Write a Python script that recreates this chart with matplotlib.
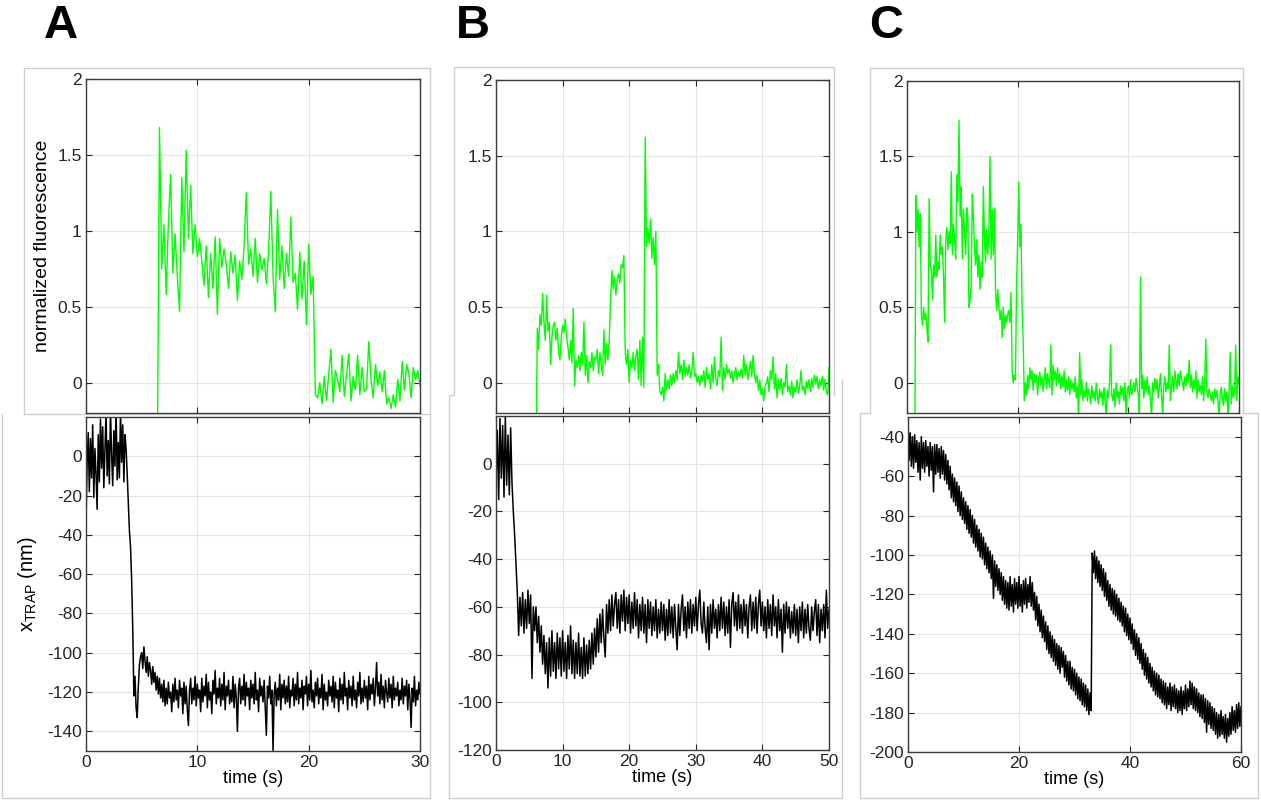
import numpy as np
import matplotlib.pyplot as plt
from matplotlib.lines import Line2D
from matplotlib.ticker import FormatStrFormatter

plt.rcParams['font.family'] = ['Liberation Sans', 'DejaVu Sans']
plt.rcParams['mathtext.fontset'] = 'custom'
plt.rcParams['mathtext.rm'] = 'Liberation Sans'
plt.rcParams['axes.unicode_minus'] = False

# ------------------------------------------------------------
# DATA
# ------------------------------------------------------------
# panel A, fluorescence, starts at t=6.4 s, one value every 0.2 s
a_fluo_t0, a_fluo_dt = 6.4, 0.2
a_fluo = [
    -0.6, 1.68, 0.75, 1.04, 0.58, 1.05, 1.37, 0.72, 0.98, 0.70,
    0.47, 1.35, 0.86, 1.53, 0.95, 1.30, 0.85, 1.04, 0.83, 0.95,
    0.80, 0.64, 0.90, 0.56, 0.85, 0.62, 0.96, 0.45, 0.95, 0.76,
    0.88, 0.78, 0.62, 0.86, 0.72, 0.84, 0.54, 0.80, 0.68, 0.90,
    1.25, 0.78, 0.88, 0.70, 0.95, 0.66, 0.85, 0.74, 0.82, 0.65,
    0.86, 1.26, 0.70, 0.47, 1.14, 0.68, 0.90, 0.62, 0.85, 0.70,
    1.09, 0.66, 0.72, 0.48, 0.86, 0.55, 0.80, 0.38, 0.91, 0.58,
    0.70, -0.08, -0.10, 0.00, -0.14, 0.04, -0.12, 0.05, 0.22, -0.13,
    0.08, 0.02, -0.06, 0.18, -0.09, 0.05, 0.19, -0.12, 0.04, -0.05,
    0.18, -0.08, 0.10, -0.06, -0.04, 0.27, 0.02, -0.10, 0.12, -0.02,
    0.07, -0.06, 0.08, -0.14, -0.10, -0.17, -0.08, -0.16, 0.02, -0.12,
    0.14, -0.05, 0.12, 0.06, -0.10, 0.10, 0.02, 0.08, -0.02,
]

# panel A, trap position, starts at t=0, one value every 0.1 s
a_trap_t0, a_trap_dt = 0.0, 0.1
a_trap = [
    -33, -4, 12, -18, 9, -11, 16, -21, 4, -9,
    -27, 11, -13, 19, -6, 15, -16, 3, 22, -10,
    8, -14, 24, 1, -15, 13, -5, 26, -12, 7,
    -11, 23, -3, 16, -13, 11, 4, -9, -24, -38,
    -46, -63, -88, -122, -112, -128, -133, -117, -106, -102,
    -100, -108, -97, -104, -110, -102, -112, -105, -109, -116,
    -107, -115, -110, -119, -112, -121, -113, -123, -116, -125,
    -114, -127, -118, -126, -115, -123, -120, -130, -116, -125,
    -113, -124, -119, -128, -114, -122, -118, -131, -115, -126,
    -117, -129, -137, -119, -113, -126, -118, -124, -112, -127,
    -116, -123, -119, -130, -113, -125, -117, -122, -111, -128,
    -115, -124, -120, -131, -114, -121, -109, -126, -118, -123,
    -113, -127, -116, -124, -110, -129, -117, -122, -114, -126,
    -119, -125, -112, -128, -116, -123, -140, -118, -113, -126,
    -117, -124, -111, -127, -115, -122, -118, -129, -114, -123,
    -116, -126, -110, -124, -119, -130, -113, -122, -117, -125,
    -114, -128, -142, -117, -123, -112, -126, -119, -150, -121,
    -115, -127, -118, -124, -111, -129, -116, -123, -114, -126,
    -117, -125, -112, -128, -119, -122, -113, -127, -116, -124,
    -110, -126, -118, -123, -114, -129, -117, -121, -112, -127,
    -116, -124, -109, -125, -119, -128, -115, -122, -113, -126,
    -118, -123, -111, -129, -116, -124, -120, -127, -114, -122,
    -117, -125, -112, -128, -115, -123, -119, -130, -113, -124,
    -116, -126, -110, -122, -118, -129, -114, -123, -117, -127,
    -112, -124, -119, -128, -115, -122, -110, -126, -118, -125,
    -114, -123, -117, -129, -112, -124, -116, -121, -113, -127,
    -118, -105, -122, -115, -126, -111, -124, -117, -128, -114,
    -120, -125, -113, -123, -116, -128, -112, -124, -118, -122,
    -115, -127, -119, -124, -113, -126, -117, -122, -114, -129,
    -116, -123, -138, -118, -125, -112, -127, -119, -124, -115,
    -121,
]

# panel B, fluorescence, starts at t=6.0 s, every 0.2 s
b_fluo_t0, b_fluo_dt = 6.0, 0.2
b_fluo = [
    -0.6, 0.36, 0.22, 0.45, 0.38,
    0.59, 0.40, 0.28, 0.58, 0.34,
    0.40, 0.12, 0.30, 0.38, 0.40,
    0.28, 0.36, 0.20, 0.15, 0.30,
    0.38, 0.33, 0.42, 0.30, 0.24,
    0.15, 0.28, 0.13, 0.49, -0.02,
    0.15, 0.10, 0.18, 0.08, 0.20,
    0.12, 0.40, 0.05, 0.18, 0.00,
    0.14, 0.10, 0.20, 0.08, 0.17,
    0.15, 0.22, 0.06, 0.20, 0.12,
    0.05, 0.35, 0.12, 0.26, 0.15,
    0.28, 0.55, 0.74, 0.62, 0.70,
    0.58, 0.68, 0.72, 0.66, 0.78,
    0.76, 0.84, 0.20, 0.12, 0.22,
    0.00, 0.15, 0.10, 0.20, 0.08,
    0.18, 0.22, 0.02, 0.28, -0.02,
    0.30, -0.03, 1.62, 0.90, 1.02,
    0.92, 1.08, 0.82, 0.96, 0.78,
    1.00, 0.05, 0.12, -0.06, -0.08,
    -0.03, -0.12, 0.06, -0.05, 0.02,
    -0.04, 0.05, -0.02, 0.06, 0.00,
    0.08, 0.02, 0.20, 0.06, 0.12,
    0.02, 0.15, 0.04, 0.10, 0.05,
    0.12, 0.03, 0.08, 0.20, 0.04,
    0.06, 0.00, 0.04, -0.02, 0.05,
    0.01, 0.08, -0.03, 0.10, 0.02,
    0.06, -0.04, 0.12, 0.00, 0.17,
    0.03, -0.02, 0.08, 0.04, 0.30,
    -0.05, 0.10, 0.02, 0.12, 0.06,
    0.09, 0.03, 0.08, 0.00, 0.06,
    0.10, 0.02, 0.07, 0.04, 0.09,
    0.03, 0.18, 0.05, 0.12, 0.02,
    0.08, 0.14, 0.04, 0.18, 0.06,
    0.00, 0.05, -0.05, 0.02, -0.08,
    -0.04, -0.12, -0.02, 0.00, 0.04,
    -0.06, 0.08, 0.02, 0.17, -0.04,
    0.06, -0.10, 0.02, -0.05, 0.03,
    -0.08, 0.00, -0.03, 0.12, -0.06,
    -0.02, -0.08, 0.01, -0.10, -0.03,
    -0.06, 0.02, -0.07, -0.02, 0.08,
    -0.05, -0.02, -0.08, 0.01, -0.04,
    0.02, -0.06, 0.03, -0.03, 0.05,
    -0.01, 0.04, -0.04, 0.02, -0.02,
    0.04, -0.05, 0.02, -0.06, -0.08,
    0.10,
]

# panel B, trap position, every 0.2 s
b_trap_t0, b_trap_dt = 0.0, 0.2
b_trap = [
    -8, 14, -15, 19, -6,
    16, -14, 20, -9, 12,
    -13, 15, -8, -20, -30,
    -42, -54, -72, -56, -68,
    -54, -71, -57, -69, -53,
    -67, -55, -90, -60, -70,
    -60, -75, -64, -79, -68,
    -84, -72, -88, -75, -94,
    -73, -89, -70, -87, -75,
    -90, -71, -86, -73, -89,
    -70, -87, -75, -90, -72,
    -86, -68, -88, -74, -90,
    -75, -88, -71, -89, -77,
    -90, -73, -89, -76, -88,
    -74, -86, -71, -84, -69,
    -81, -65, -79, -63, -75,
    -61, -73, -81, -59, -71,
    -57, -70, -55, -68, -59,
    -54, -69, -57, -71, -55,
    -66, -53, -70, -56, -67,
    -55, -71, -58, -69, -54,
    -68, -57, -73, -59, -70,
    -56, -71, -59, -75, -57,
    -69, -58, -72, -60, -70,
    -57, -73, -61, -71, -58,
    -70, -59, -74, -61, -72,
    -57, -71, -60, -73, -59,
    -69, -78, -59, -72, -61,
    -55, -70, -60, -73, -58,
    -69, -57, -71, -59, -68,
    -56, -70, -59, -53, -67,
    -71, -58, -69, -75, -60,
    -78, -59, -71, -57, -69,
    -61, -73, -59, -70, -56,
    -69, -58, -72, -60, -71,
    -57, -77, -59, -54, -68,
    -58, -70, -55, -69, -59,
    -71, -57, -68, -59, -73,
    -60, -55, -70, -58, -69,
    -56, -71, -59, -53, -68,
    -58, -70, -60, -73, -57,
    -69, -59, -72, -55, -68,
    -60, -73, -57, -70, -61,
    -79, -59, -71, -58, -69,
    -60, -73, -62, -71, -59,
    -72, -61, -75, -60, -70,
    -58, -73, -61, -71, -59,
    -69, -74, -60, -70, -62,
    -57, -72, -59, -75, -61,
    -70, -59, -73, -53, -69,
    -61,
]

# panel C, fluorescence, starts at t=1.4 s, every 0.2 s
c_fluo_t0, c_fluo_dt = 1.4, 0.2
c_fluo = [
    -0.6, 1.24, 1.00,
    1.15, 0.90, 1.12, 0.45, 0.38,
    0.50, 0.42, 0.46, 0.35, 0.27,
    1.22, 0.78, 0.75, 0.55, 0.78,
    0.70, 0.98, 0.70, 0.80, 0.75,
    0.98, 0.85, 0.90, 0.70, 0.40,
    0.95, 1.03, 0.88, 1.00, 0.92,
    1.40, 0.85, 1.05, 0.95, 0.82,
    1.38, 1.20, 1.74, 1.10, 1.30,
    0.82, 1.15, 1.00, 0.85, 1.16,
    1.10, 0.50, 0.55, 0.65, 1.25,
    1.10, 0.90, 0.78, 0.95, 0.70,
    0.85, 0.62, 0.80, 0.70, 1.30,
    0.95, 0.80, 1.02, 0.85, 1.00,
    1.50, 0.82, 1.15, 0.85, 1.16,
    0.60, 0.48, 0.62, 0.50, 0.42,
    0.48, 0.30, 0.50, 0.36, 0.45,
    0.40, 0.45, 0.48, 0.40, 0.60,
    0.08, 0.00, 0.05, 0.02, 0.65,
    0.95, 1.33, 0.90, 1.05, 0.50,
    0.27, -0.12, 0.00, -0.08, 0.05,
    -0.04, 0.10, 0.02, 0.08, -0.05,
    0.06, 0.00, 0.05, -0.08, 0.03,
    0.07, -0.02, 0.04, -0.06, 0.02,
    0.10, -0.04, 0.06, 0.01, -0.03,
    0.25, -0.08, 0.12, 0.02, 0.08,
    -0.02, 0.10, 0.00, 0.06, -0.04,
    0.05, -0.03, 0.08, -0.06, 0.02,
    -0.05, 0.04, -0.08, 0.02, -0.04,
    0.00, -0.06, 0.04, -0.10, -0.02,
    -0.22, 0.20, -0.08, 0.02, -0.12,
    -0.05, -0.10, 0.00, -0.12, -0.04,
    -0.08, -0.14, -0.02, -0.10, -0.06,
    -0.12, 0.00, -0.08, -0.14, -0.04,
    -0.10, -0.06, -0.15, -0.03, -0.12,
    -0.22, -0.05, -0.10, 0.00, 0.25,
    -0.08, -0.12, -0.04, -0.16, 0.00,
    -0.10, -0.06, -0.14, -0.02, -0.08,
    -0.03, -0.12, 0.00, -0.22, -0.06,
    -0.02, -0.10, 0.02, -0.08, -0.04,
    0.00, -0.06, 0.03, -0.02, -0.08,
    -0.22, 0.70, -0.04, 0.05, -0.10,
    0.02, -0.06, 0.04, -0.08, -0.02,
    -0.12, -0.22, 0.00, -0.06, 0.03,
    -0.05, 0.02, -0.10, -0.03, 0.06,
    -0.08, -0.22, -0.02, 0.04, -0.06,
    0.00, -0.04, 0.25, -0.12, -0.03,
    0.04, -0.06, 0.08, 0.02, -0.04,
    0.06, -0.02, 0.08, 0.03, 0.00,
    -0.05, 0.04, -0.02, 0.06, 0.00,
    0.15, -0.03, 0.05, -0.06, 0.02,
    -0.04, 0.08, -0.10, 0.02, -0.06,
    -0.02, -0.08, 0.04, -0.12, 0.00,
    0.29, -0.06, -0.10, -0.04, -0.08,
    -0.12, -0.06, -0.14, -0.04, -0.10,
    -0.05, -0.12, -0.22, -0.08, -0.03,
    -0.10, -0.15, -0.04, -0.12, -0.06,
    -0.22, -0.08, 0.20, -0.14, -0.02,
    -0.10, -0.06, 0.25, -0.12, 0.04,
    0.00,
]

# panel C, trap position, every 0.2 s
c_trap_t0, c_trap_dt = 0.0, 0.2
c_trap = [
    -30, -52, -38, -55, -40,
    -56, -39, -53, -42, -58,
    -43, -62, -40, -56, -43,
    -58, -42, -55, -45, -60,
    -43, -57, -45, -68, -44,
    -59, -44, -58, -46, -61,
    -45, -59, -47, -62, -49,
    -64, -52, -67, -55, -71,
    -59, -73, -61, -75, -63,
    -78, -65, -80, -68, -82,
    -71, -84, -73, -87, -75,
    -89, -77, -91, -80, -94,
    -82, -96, -85, -98, -87,
    -101, -89, -102, -91, -105,
    -94, -107, -96, -109, -98,
    -112, -100, -122, -103, -116,
    -105, -118, -107, -120, -109,
    -123, -111, -125, -113, -127,
    -114, -128, -111, -126, -115,
    -129, -112, -125, -114, -127,
    -111, -126, -115, -129, -113,
    -125, -112, -127, -115, -124,
    -111, -126, -114, -128, -119,
    -133, -121, -136, -125, -139,
    -128, -142, -131, -144, -134,
    -148, -136, -150, -139, -152,
    -141, -154, -143, -156, -145,
    -158, -146, -160, -147, -157,
    -149, -162, -151, -164, -154,
    -166, -154, -168, -157, -169,
    -158, -171, -160, -173, -162,
    -174, -163, -176, -165, -177,
    -166, -179, -168, -181, -170,
    -179, -99, -109, -98, -112,
    -101, -114, -103, -116, -105,
    -118, -107, -121, -109, -123,
    -113, -126, -115, -128, -117,
    -130, -118, -131, -120, -133,
    -122, -134, -124, -136, -126,
    -139, -127, -141, -130, -143,
    -132, -145, -135, -148, -138,
    -151, -140, -153, -142, -155,
    -145, -158, -148, -161, -150,
    -163, -152, -165, -155, -167,
    -157, -169, -159, -171, -160,
    -172, -161, -173, -163, -175,
    -164, -176, -165, -178, -167,
    -176, -165, -179, -167, -177,
    -166, -178, -168, -180, -169,
    -179, -167, -181, -169, -178,
    -166, -179, -168, -177, -164,
    -176, -165, -178, -167, -179,
    -168, -180, -170, -182, -171,
    -183, -171, -185, -173, -190,
    -174, -186, -175, -188, -177,
    -189, -178, -191, -180, -193,
    -181, -192, -179, -191, -182,
    -193, -181, -195, -183, -192,
    -180, -191, -177, -189, -179,
    -190, -176, -188, -175, -187,
    -177,
]

panel_letters = ['A', 'B', 'C']
x_limits = [(0, 30), (0, 50), (0, 60)]
x_ticks = [[0, 10, 20, 30], [0, 10, 20, 30, 40, 50], [0, 20, 40, 60]]
fluo_ticks = [0, 0.5, 1, 1.5, 2]
trap_limits = [(-150, 20), (-120, 20), (-200, -30)]
trap_ticks = [list(range(-140, 1, 20)), list(range(-120, 1, 20)), list(range(-200, -39, 20))]

# ------------------------------------------------------------
# LAYOUT (pixel boxes of the original figure)
# ------------------------------------------------------------
W, H = 1261, 801
fig = plt.figure(figsize=(W / 100, H / 100), dpi=100)


def px_box(x0, y0, x1, y1):
    return [x0 / W, 1 - y1 / H, (x1 - x0) / W, (y1 - y0) / H]


top_boxes = [(86, 79, 420, 413), (496, 80, 829, 413), (907, 81, 1239, 413)]
bot_boxes = [(86, 417, 420, 751), (496, 416, 829, 750), (908, 417, 1241, 752)]
letter_pos = [(61, 26), (473, 26), (886, 26)]

# light grey outlines of the separate figure windows (pixel polylines)
frame_lines = [
    [(24, 414), (24, 68), (430, 68), (430, 414), (24, 414)],
    [(2, 414), (2, 798), (430, 798), (430, 414)],
    [(449, 798), (449, 395), (454, 395), (454, 67), (834, 67), (834, 395)],
    [(842, 380), (842, 798), (449, 798)],
    [(870, 413), (870, 68), (1243, 68), (1243, 413)],
    [(870, 413), (860, 413), (860, 798), (1258, 798), (1258, 413), (1243, 413)],
]
for pts in frame_lines:
    xs = [p[0] / W for p in pts]
    ys = [1 - p[1] / H for p in pts]
    fig.add_artist(Line2D(xs, ys, transform=fig.transFigure,
                          color='#cfcfcf', lw=1, zorder=-5))


def matlab_style(ax):
    ax.tick_params(direction='in', top=True, right=True, length=4, width=0.8,
                   labelsize=12.5, colors='#262626', pad=3)
    ax.grid(True, color='#e4e4e4', lw=0.8)
    ax.set_axisbelow(True)
    for s in ax.spines.values():
        s.set_color('#3c3c3c')
        s.set_linewidth(1.0)


fluo_data = [(a_fluo_t0, a_fluo_dt, a_fluo), (b_fluo_t0, b_fluo_dt, b_fluo), (c_fluo_t0, c_fluo_dt, c_fluo)]
trap_data = [(a_trap_t0, a_trap_dt, a_trap), (b_trap_t0, b_trap_dt, b_trap), (c_trap_t0, c_trap_dt, c_trap)]

for i in range(3):
    # fluorescence (top)
    ax = fig.add_axes(px_box(*top_boxes[i]))
    t0, dt, y = fluo_data[i]
    t = t0 + dt * np.arange(len(y))
    ax.plot(t, y, color='#00ff00', lw=1.0)
    ax.set_xlim(*x_limits[i])
    ax.set_ylim(-0.2, 2)
    ax.set_xticks(x_ticks[i])
    ax.set_yticks(fluo_ticks)
    ax.yaxis.set_major_formatter(FormatStrFormatter('%g'))
    matlab_style(ax)
    ax.tick_params(labelbottom=False)
    if i == 0:
        ax.set_ylabel('normalized fluorescence', fontsize=14, labelpad=5)

    # trap position (bottom)
    ax = fig.add_axes(px_box(*bot_boxes[i]))
    t0, dt, y = trap_data[i]
    t = t0 + dt * np.arange(len(y))
    ax.plot(t, y, color='black', lw=1.1)
    ax.set_xlim(*x_limits[i])
    ax.set_ylim(*trap_limits[i])
    ax.set_xticks(x_ticks[i])
    ax.set_yticks(trap_ticks[i])
    matlab_style(ax)
    ax.set_xlabel('time (s)', fontsize=13, labelpad=0)
    if i == 0:
        ax.set_ylabel(r'x$_{\mathrm{TRAP}}$ (nm)', fontsize=14.5, labelpad=6)

    fig.text(letter_pos[i][0] / W, 1 - letter_pos[i][1] / H, panel_letters[i],
             fontsize=34, fontweight='bold', ha='center', va='center')

fig.savefig('out.png', dpi=100)
